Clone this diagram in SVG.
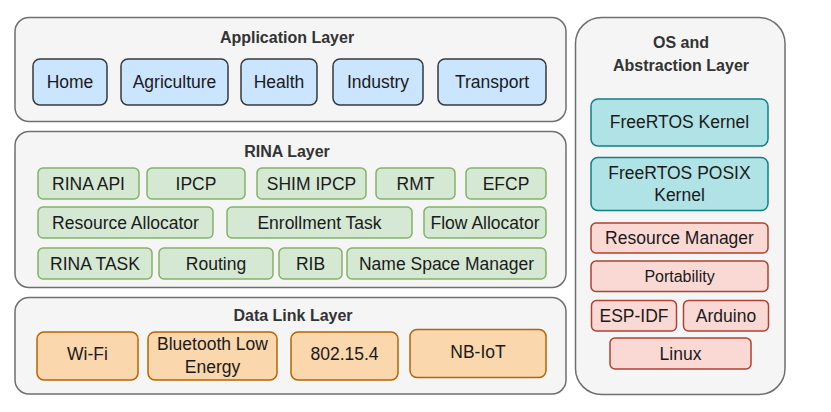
<svg xmlns="http://www.w3.org/2000/svg" width="831" height="412" viewBox="0 0 831 412">
<style>
  text { font-family: "Liberation Sans", Arial, sans-serif; fill: #1a1a1a; text-anchor: middle; }
  .title { font-size: 16px; font-weight: bold; fill: #333333; }
  .lbl { font-size: 17.5px; }
  .layer { fill: #f5f5f5; stroke: #6f6f6f; stroke-width: 1.5; }
  .app { fill: #cce5ff; stroke: #36393d; stroke-width: 1.5; }
  .rina { fill: #d5e8d4; stroke: #82b366; stroke-width: 1.5; }
  .dll { fill: #fad7ac; stroke: #b46504; stroke-width: 1.5; }
  .os { fill: #b0e3e6; stroke: #0e8088; stroke-width: 1.5; }
  .port { fill: #fad9d5; stroke: #ae4132; stroke-width: 1.5; }
</style>
<rect width="831" height="412" fill="#ffffff"/>

<g id="application-layer">
  <rect class="layer" x="15" y="17.5" width="551" height="104" rx="14"/>
  <text class="title" x="287" y="43">Application Layer</text>
</g>
<g id="home"><rect class="app" x="33" y="59" width="74" height="46" rx="7"/><text class="lbl" x="70" y="88">Home</text></g>
<g id="agriculture"><rect class="app" x="121" y="59" width="107" height="46" rx="7"/><text class="lbl" x="174.5" y="88">Agriculture</text></g>
<g id="health"><rect class="app" x="241" y="59" width="76" height="46" rx="7"/><text class="lbl" x="279" y="88">Health</text></g>
<g id="industry"><rect class="app" x="333" y="59" width="90" height="46" rx="7"/><text class="lbl" x="378" y="88">Industry</text></g>
<g id="transport"><rect class="app" x="438" y="59" width="108" height="46" rx="7"/><text class="lbl" x="492" y="88">Transport</text></g>

<g id="rina-layer">
  <rect class="layer" x="15" y="131.5" width="551" height="156" rx="14"/>
  <text class="title" x="287" y="157">RINA Layer</text>
</g>
<g id="rina-api"><rect class="rina" x="38" y="168" width="101" height="31" rx="5"/><text class="lbl" x="88.5" y="189.5">RINA API</text></g>
<g id="ipcp"><rect class="rina" x="147" y="168" width="98" height="31" rx="5"/><text class="lbl" x="196" y="189.5">IPCP</text></g>
<g id="shim-ipcp"><rect class="rina" x="257" y="168" width="109" height="31" rx="5"/><text class="lbl" x="311.5" y="189.5">SHIM IPCP</text></g>
<g id="rmt"><rect class="rina" x="376" y="168" width="79" height="31" rx="5"/><text class="lbl" x="415.5" y="189.5">RMT</text></g>
<g id="efcp"><rect class="rina" x="466" y="168" width="80" height="31" rx="5"/><text class="lbl" x="506" y="189.5">EFCP</text></g>
<g id="resource-allocator"><rect class="rina" x="38" y="207" width="175" height="31" rx="5"/><text class="lbl" x="125.5" y="228.5">Resource Allocator</text></g>
<g id="enrollment-task"><rect class="rina" x="227" y="207" width="185" height="31" rx="5"/><text class="lbl" x="319.5" y="228.5">Enrollment Task</text></g>
<g id="flow-allocator"><rect class="rina" x="424" y="207" width="122" height="31" rx="5"/><text class="lbl" x="485" y="228.5">Flow Allocator</text></g>
<g id="rina-task"><rect class="rina" x="38" y="248" width="114" height="31" rx="5"/><text class="lbl" x="95" y="269.5">RINA TASK</text></g>
<g id="routing"><rect class="rina" x="159" y="248" width="114" height="31" rx="5"/><text class="lbl" x="216" y="269.5">Routing</text></g>
<g id="rib"><rect class="rina" x="279" y="248" width="63" height="31" rx="5"/><text class="lbl" x="310.5" y="269.5">RIB</text></g>
<g id="name-space-manager"><rect class="rina" x="347" y="248" width="199" height="31" rx="5"/><text class="lbl" x="446.5" y="269.5">Name Space Manager</text></g>

<g id="data-link-layer">
  <rect class="layer" x="15" y="297.5" width="551" height="96.5" rx="14"/>
  <text class="title" x="293" y="321">Data Link Layer</text>
</g>
<g id="wifi"><rect class="dll" x="37" y="332" width="101" height="48" rx="7"/><text class="lbl" x="87.5" y="360">Wi-Fi</text></g>
<g id="ble"><rect class="dll" x="148" y="332" width="129" height="48" rx="7"/><text class="lbl" x="212.5" y="350">Bluetooth Low</text><text class="lbl" x="212.5" y="373">Energy</text></g>
<g id="ieee802154"><rect class="dll" x="291" y="332" width="107" height="48" rx="7"/><text class="lbl" x="344.5" y="360">802.15.4</text></g>
<g id="nb-iot"><rect class="dll" x="410" y="329.5" width="136" height="48" rx="7"/><text class="lbl" x="478" y="358">NB-IoT</text></g>

<g id="os-layer">
  <rect class="layer" x="575.5" y="17.5" width="209.5" height="377" rx="26"/>
  <text class="title" x="681" y="48">OS and</text>
  <text class="title" x="681" y="71">Abstraction Layer</text>
</g>
<g id="freertos-kernel"><rect class="os" x="591" y="99" width="177" height="47" rx="7"/><text class="lbl" x="679.5" y="128">FreeRTOS Kernel</text></g>
<g id="freertos-posix-kernel"><rect class="os" x="591" y="157.5" width="177" height="53" rx="7"/><text class="lbl" x="679.5" y="179">FreeRTOS POSIX</text><text class="lbl" x="679.5" y="201">Kernel</text></g>
<g id="resource-manager"><rect class="port" x="591" y="223" width="177" height="30" rx="5"/><text class="lbl" x="679.5" y="243.5">Resource Manager</text></g>
<g id="portability"><rect class="port" x="591" y="261" width="177" height="30.5" rx="5"/><text class="lbl" x="679.5" y="281.5" style="font-size:16px">Portability</text></g>
<g id="esp-idf"><rect class="port" x="591.5" y="300.5" width="85" height="30.5" rx="5"/><text class="lbl" x="634" y="321.5">ESP-IDF</text></g>
<g id="arduino"><rect class="port" x="683.5" y="300.5" width="85" height="30.5" rx="5"/><text class="lbl" x="726" y="321.5">Arduino</text></g>
<g id="linux"><rect class="port" x="610" y="338" width="141" height="31" rx="5"/><text class="lbl" x="680.5" y="359.5">Linux</text></g>

<g id="connectors"/>
</svg>
